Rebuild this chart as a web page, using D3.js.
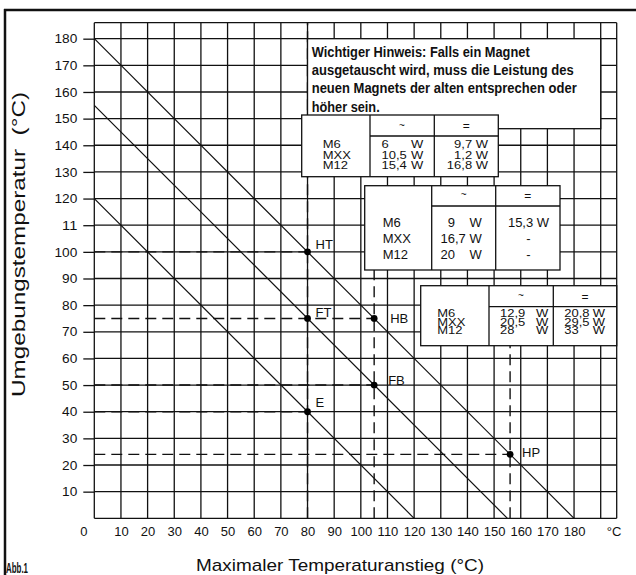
<!DOCTYPE html>
<html><head><meta charset="utf-8">
<script src="https://cdn.jsdelivr.net/npm/d3@7"></script>
<style>
html,body{margin:0;padding:0;background:#fff;}
svg{display:block;font-family:"Liberation Sans",Arial,Helvetica,sans-serif;}
</style></head>
<body>
<script>
// ---- data ----
const lineIntercepts = [180, 155, 120];            // x + y = c
const pointLabels = ["HT", "FT", "E", "HB", "FB", "HP"];
const pointX = [80, 80, 80, 105, 105, 156];
const pointY = [100, 75, 40, 75, 50, 24];
const dashedH = [[100, 80], [75, 105], [50, 105], [40, 80], [24, 156]]; // [y, xEnd]
const dashedV = [[80, 186], [105, 100], [156, 65]];                      // [x, yEnd]
const xTicks = [0,10,20,30,40,50,60,70,80,90,100,110,120,130,140,150,160,170,180];
const yTicks = [10,20,30,40,50,60,70,80,90,100,110,120,130,140,150,160,170,180];
const yTickLabels = ["10","20","30","40","50","60","70","80","90","100","11","120","130","140","150","160","170","180"];
const models = ["M6", "MXX", "M12"];
const table1Ac = ["6", "10,5", "15,4"], table1Dc = ["9,7", "1,2", "16,8"];
const table2Ac = ["9", "16,7", "20"],   table2Dc = ["15,3 W", "-", "-"];
const table3Ac = ["12,9", "20,5", "28"], table3Dc = ["20,8", "29,5", "33"];
const noteLines = ["Wichtiger Hinweis: Falls ein Magnet",
                   "ausgetauscht wird, muss die Leistung des",
                   "neuen Magnets der alten entsprechen oder",
                   "höher sein."];
const noteWidths = [218, 262, 265, 68];
const xTitle = "Maximaler Temperaturanstieg (°C)";
const yTitle = "Umgebungstemperatur  (°C)";

// ---- setup ----
const W = 636, H = 575;
const svg = d3.select("body").append("svg").attr("width", W).attr("height", H);
const x = d3.scaleLinear().domain([0, 196]).range([94.3, 616.7]);
const y = d3.scaleLinear().domain([0, 186]).range([518.3, 22.7]);

// outer frame
svg.append("line").attr("x1", 4).attr("x2", 636).attr("y1", 10).attr("y2", 10).attr("stroke", "#111").attr("stroke-width", 2.5);
svg.append("line").attr("x1", 5).attr("x2", 5).attr("y1", 9).attr("y2", 575).attr("stroke", "#111").attr("stroke-width", 2.5);

// grid
const grid = svg.append("g").attr("stroke", "#111").attr("stroke-width", 1.3);
const gx = d3.range(0, 191, 10).concat([196]);
const gy = d3.range(0, 181, 10).concat([186]);
grid.selectAll("line.v").data(gx).join("line").attr("class", "v")
  .attr("x1", d => x(d)).attr("x2", d => x(d)).attr("y1", y(0)).attr("y2", y(186));
grid.selectAll("line.h").data(gy).join("line").attr("class", "h")
  .attr("y1", d => y(d)).attr("y2", d => y(d)).attr("x1", x(0)).attr("x2", x(196));

// y axis
const yAxis = d3.axisLeft(y).tickValues(yTicks).tickSize(11).tickPadding(6)
  .tickFormat((d, i) => yTickLabels[i]);
const ya = svg.append("g").attr("transform", `translate(${x(0)},0)`).call(yAxis);
ya.select(".domain").remove();
ya.selectAll("line").attr("stroke", "#111").attr("stroke-width", 1.3);
ya.selectAll("text").attr("font-size", 13).attr("font-family", "Liberation Sans, Arial, sans-serif").attr("fill", "#111")
  .attr("textLength", (d, i) => yTickLabels[i].length * 7.6).attr("lengthAdjust", "spacingAndGlyphs");

// x axis
const xAxis = d3.axisBottom(x).tickValues(xTicks).tickSize(0).tickPadding(8).tickFormat(d => String(d));
const xa = svg.append("g").attr("transform", `translate(0,${y(0)})`).call(xAxis);
xa.select(".domain").remove();
xa.selectAll("text").attr("font-size", 13).attr("font-family", "Liberation Sans, Arial, sans-serif").attr("fill", "#111")
  .attr("dx", d => d === 0 ? -11 : 0);
svg.append("text").attr("x", x(195)).attr("y", y(0) + 17.5).attr("text-anchor", "middle")
  .attr("font-size", 13).attr("fill", "#111").text("°C");

// dashed helper lines
const dash = svg.append("g").attr("stroke", "#111").attr("stroke-width", 1.4).attr("stroke-dasharray", "11,6");
dash.selectAll("line.dh").data(dashedH).join("line").attr("class", "dh")
  .attr("x1", x(0)).attr("x2", d => x(d[1])).attr("y1", d => y(d[0])).attr("y2", d => y(d[0]));
dash.selectAll("line.dv").data(dashedV).join("line").attr("class", "dv")
  .attr("x1", d => x(d[0])).attr("x2", d => x(d[0])).attr("y1", y(0)).attr("y2", d => y(d[1]));

// diagonal lines
svg.append("g").selectAll("line").data(lineIntercepts).join("line")
  .attr("x1", x(0)).attr("y1", d => y(d)).attr("x2", d => x(d)).attr("y2", y(0))
  .attr("stroke", "#111").attr("stroke-width", 1.2);

// points
const pts = pointLabels.map((l, i) => ({l, x: pointX[i], y: pointY[i]}));
const labelOff = {HT: [8, -7], FT: [8, -6], E: [8, -9], HB: [16, 0], FB: [14, -5], HP: [12, -2]};
svg.append("g").selectAll("circle").data(pts).join("circle")
  .attr("cx", d => x(d.x)).attr("cy", d => y(d.y)).attr("r", 3.4).attr("fill", "#000");
svg.append("g").selectAll("text").data(pts).join("text")
  .attr("x", d => x(d.x) + labelOff[d.l][0]).attr("y", d => y(d.y) + labelOff[d.l][1] + 4.6)
  .attr("font-size", 13).attr("fill", "#111").text(d => d.l);

// ---- boxes ----
function box(x0, y0, x1, y1) {
  svg.append("rect").attr("x", x0).attr("y", y0).attr("width", x1 - x0).attr("height", y1 - y0)
    .attr("fill", "#fff").attr("stroke", "#111").attr("stroke-width", 1.3);
}
function vline(xx, y0, y1) { svg.append("line").attr("x1", xx).attr("x2", xx).attr("y1", y0).attr("y2", y1).attr("stroke", "#111").attr("stroke-width", 1.3); }
function hline(yy, x0, x1) { svg.append("line").attr("x1", x0).attr("x2", x1).attr("y1", yy).attr("y2", yy).attr("stroke", "#111").attr("stroke-width", 1.3); }
function txt(s, xx, yc, anchor, sy, size) {
  svg.append("text").attr("transform", `translate(${xx},${yc}) scale(1,${sy})`)
    .attr("y", (size || 13) * 0.355).attr("text-anchor", anchor).attr("font-size", size || 13)
    .attr("fill", "#111").style("white-space", "pre").text(s);
}

// note box
box(x(80), y(180), x(190), y(180) + 90);
noteLines.forEach((s, i) => {
  svg.append("text").attr("x", 311.7).attr("y", 56.7 + i * 18.3)
    .attr("font-size", 15).attr("font-weight", "bold").attr("fill", "#111")
    .attr("textLength", noteWidths[i]).attr("lengthAdjust", "spacingAndGlyphs")
    .text(s);
});

// table 1
box(301.7, 115, 498.3, 176.7);
vline(370, 115, 176.7); vline(434.3, 115, 176.7); hline(136, 370, 498.3);
txt("~", 402, 125.5, "middle", 1, 10); txt("=", 466.3, 126, "middle", 1, 12);
const t1y = [144.7, 155.1, 165.5];
models.forEach((m, i) => {
  txt(m, 322.7, t1y[i], "start", 0.8);
  txt(table1Ac[i], 381.5, t1y[i], "start", 0.8);
  txt("W", 423.3, t1y[i], "end", 0.8);
  txt(table1Dc[i] + " W", 488, t1y[i], "end", 0.8);
});

// table 2
box(364.7, 185.7, 560, 270);
vline(431.7, 185.7, 270); vline(495.7, 185.7, 270); hline(206, 431.7, 560);
txt("~", 463.7, 194.5, "middle", 1, 10); txt("=", 527.8, 195.5, "middle", 1, 12);
const t2y = [222.7, 238.7, 254];
models.forEach((m, i) => {
  txt(m, 382.7, t2y[i], "start", 1);
  const parts = table2Ac[i].split(",");
  txt(parts[0], 455, t2y[i], "end", 1);
  if (parts[1]) txt("," + parts[1], 455, t2y[i], "start", 1);
  txt("W", 481.7, t2y[i], "end", 1);
  txt(table2Dc[i], 528.5, t2y[i], "middle", 1);
});

// table 3
box(420.7, 285.7, 616.7, 345.7);
vline(489, 285.7, 345.7); vline(553.3, 285.7, 345.7); hline(306.7, 489, 616.7);
txt("~", 521, 295.5, "middle", 1, 10); txt("=", 585, 296.5, "middle", 1, 12);
const t3y = [313.8, 322.1, 330.2];
models.forEach((m, i) => {
  txt(m, 437.3, t3y[i], "start", 0.8);
  txt(table3Ac[i], 500, t3y[i], "start", 0.8);
  txt("W", 548.3, t3y[i], "end", 0.8);
  txt(table3Dc[i], 564.3, t3y[i], "start", 0.8);
  txt("W", 605, t3y[i], "end", 0.8);
});

// titles
svg.append("text").attr("x", 340).attr("y", 571).attr("text-anchor", "middle")
  .attr("font-size", 17).attr("fill", "#111")
  .attr("textLength", 288).attr("lengthAdjust", "spacingAndGlyphs").text(xTitle);
svg.append("text").attr("transform", "translate(25,244.5) rotate(-90)").attr("text-anchor", "middle")
  .attr("font-size", 17.5).attr("fill", "#111").style("white-space", "pre")
  .attr("textLength", 305).attr("lengthAdjust", "spacingAndGlyphs").text(yTitle);
svg.append("text").attr("x", 6).attr("y", 573).attr("font-size", 14).attr("font-weight", "bold")
  .attr("fill", "#111").attr("textLength", 22).attr("lengthAdjust", "spacingAndGlyphs").text("Abb.1");
</script>
</body></html>
